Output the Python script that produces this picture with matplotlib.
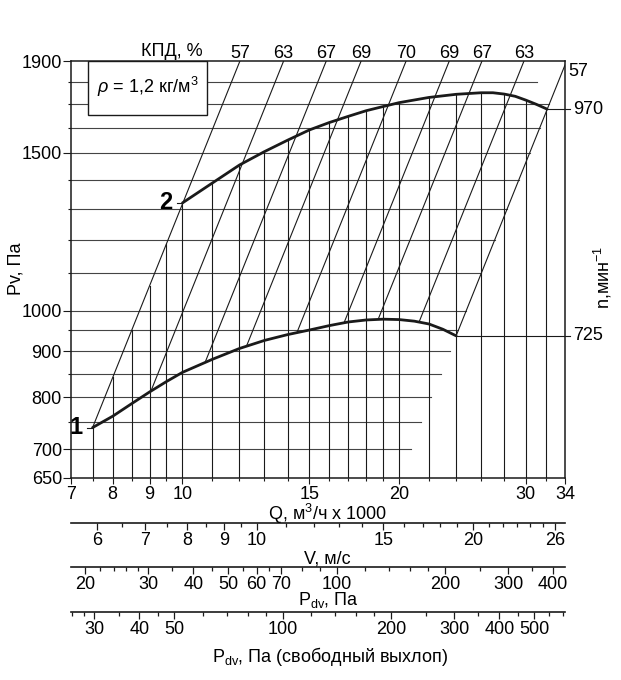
"""Fan performance chart: Pv vs Q at two speeds with efficiency lines and dynamic-pressure scales."""
import numpy as np
import matplotlib
matplotlib.use("Agg")
import matplotlib.pyplot as plt
from matplotlib.ticker import FixedLocator, FixedFormatter, NullFormatter

FONT = ["Liberation Sans", "DejaVu Sans"]
plt.rcParams.update({"font.family": FONT, "font.size": 13,
                     "mathtext.fontset": "custom",
                     "mathtext.rm": "Liberation Sans",
                     "mathtext.it": "Liberation Sans:italic"})
INK = "#1a1a1a"

# ---------- data ----------
Q_MIN, Q_MAX = 7, 34          # Q, m3/h x 1000
P_MIN, P_MAX = 650, 1900      # Pv, Pa

# curve 1: n = 725 1/min
Q1 = [7.5, 8.0, 8.5, 9.0, 9.5, 10, 11, 12, 13, 14, 15, 16, 17, 18, 19, 20, 21, 22, 23, 24]
P1 = [740, 762, 787, 811, 833, 853, 882, 907, 926, 940, 951, 962, 971, 976, 978, 977, 973, 966, 953, 937]
# curve 2: n = 970 1/min
Q2 = [10.0, 11, 12, 13, 14, 15, 16, 17, 18, 19, 20, 22, 24, 26, 27, 28, 29, 30, 31, 32.1]
P2 = [1319, 1388, 1454, 1505, 1550, 1591, 1622, 1648, 1672, 1690, 1707, 1730, 1744, 1751, 1751, 1745, 1735, 1718, 1700, 1679]
N_LABELS = ["725", "970"]

# efficiency lines (P ~ Q^2): label, flow where line meets top frame
EFF_LABELS = ["63", "67", "69", "70", "69", "67", "63"]
EFF_Q_TOP = [13.82, 15.84, 17.71, 20.45, 23.48, 26.07, 29.82]
EFF_EDGE_LABEL = "57"         # lines through the curve ends

P_GRID = [700, 750, 800, 850, 900, 950, 1000, 1100, 1200, 1300, 1400, 1500, 1600, 1700, 1800]
P_GRID_END = {1800: 31.1}     # grid line stopping short of the edge line
Q_GRID = [7.5, 8, 8.5, 9, 9.5, 10, 11, 12, 13, 14, 15, 16, 17, 18, 19, 20, 22, 24, 26, 28, 30, 32]
Q_LABELS = [7, 8, 9, 10, 15, 20, 30, 34]
P_LABELS = [650, 700, 800, 900, 1000, 1500, 1900]

# auxiliary scales
Q_PER_V = 1.268               # (m3/h x 1000) per m/s
RHO = 1.2
FREE_RATIO = 1.412            # free-outlet Pdv / Pdv
V_LABELS = [6, 7, 8, 9, 10, 15, 20, 26]
V_MINOR = [6.5, 7.5, 8.5, 9.5, 11, 12, 13, 14, 16, 17, 18, 19, 21, 22, 23, 24, 25]
PDV_LABELS = [20, 30, 40, 50, 60, 70, 100, 200, 300, 400]
PDV_MINOR = [22, 24, 26, 28, 35, 45, 55, 65, 80, 90, 120, 140, 160, 180, 250, 350]
PDVF_LABELS = [30, 40, 50, 100, 200, 300, 400, 500]
PDVF_MINOR = [26, 28, 35, 45, 60, 70, 80, 90, 120, 140, 160, 180, 250, 350, 450, 550, 600]

# ---------- figure ----------
W, H = 621, 680
fig = plt.figure(figsize=(W / 100, H / 100), dpi=100)
L, R, T, B = 71, 565, 61, 478
ax = fig.add_axes([L / W, 1 - B / H, (R - L) / W, (B - T) / H])
ax.set_xscale("log"); ax.set_yscale("log")
ax.set_xlim(Q_MIN, Q_MAX); ax.set_ylim(P_MIN, P_MAX)
for s in ax.spines.values():
    s.set_linewidth(1.1); s.set_color(INK)

lq1, lp1 = np.log(Q1), np.log(P1)
lq2, lp2 = np.log(Q2), np.log(P2)
k_left = P1[0] / Q1[0] ** 2     # parabola through both curve starts
k_right = P1[-1] / Q1[-1] ** 2  # parabola through both curve ends

# horizontal grid: left frame to the right edge line
for p in P_GRID:
    q_end = min(np.sqrt(p / k_right), P_GRID_END.get(p, Q_MAX))
    ax.plot([Q_MIN, q_end], [p, p], color="#444444", lw=0.8, zorder=1)

# vertical grid: bottom frame up to curve 2 (or the left edge line)
for q in Q_GRID:
    if q < Q2[0]:
        top = k_left * q ** 2
    else:
        top = np.exp(np.interp(np.log(q), lq2, lp2))
    ax.plot([q, q], [P_MIN, top], color=INK, lw=0.8, zorder=1)

# efficiency lines
ratio1 = (lp1 - 2 * lq1)[::-1]
def q_on_curve1(k):
    return np.exp(np.interp(np.log(k), ratio1, lq1[::-1]))

for lbl, qt in zip(EFF_LABELS, EFF_Q_TOP):
    k = P_MAX / qt ** 2
    ql = q_on_curve1(k)
    ax.plot([ql, qt], [k * ql ** 2, P_MAX], color=INK, lw=0.8, zorder=2)
    ax.annotate(lbl, xy=(qt, P_MAX), xytext=(0, 2.5), textcoords="offset points",
                ha="center", va="baseline", annotation_clip=False)

q_top_left = np.sqrt(P_MAX / k_left)
ax.plot([Q1[0], q_top_left], [P1[0], P_MAX], color=INK, lw=0.8, zorder=2)
ax.annotate(EFF_EDGE_LABEL, xy=(q_top_left, P_MAX), xytext=(0, 2.5), textcoords="offset points",
            ha="center", va="baseline", annotation_clip=False)
q_top_right = min(np.sqrt(P_MAX / k_right), Q_MAX)
ax.plot([Q1[-1], q_top_right], [P1[-1], k_right * q_top_right ** 2], color=INK, lw=0.8, zorder=2)
ax.annotate(EFF_EDGE_LABEL, xy=(Q_MAX, k_right * Q_MAX ** 2), xytext=(2.5, -4.5),
            textcoords="offset points", ha="left", va="center", annotation_clip=False)

# performance curves
for qs, ps, n in [(Q1, P1, N_LABELS[0]), (Q2, P2, N_LABELS[1])]:
    ax.plot(qs, ps, color=INK, lw=2.0, solid_capstyle="round", zorder=4)
    ax.plot([qs[-1], Q_MAX * 1.016], [ps[-1], ps[-1]], color=INK, lw=0.8, clip_on=False, zorder=2)
    ax.annotate(n, xy=(Q_MAX, ps[-1]), xytext=(5.5, 0), textcoords="offset points",
                ha="left", va="center", annotation_clip=False)

for qs, ps, tag in [(Q1, P1, "1"), (Q2, P2, "2")]:
    ax.plot([qs[0] * 0.982, qs[0]], [ps[0], ps[0]], color=INK, lw=0.8, zorder=3)
    ax.annotate(tag, xy=(qs[0], ps[0]), xytext=(-12, 0), textcoords="offset points",
                ha="center", va="center", fontsize=17, fontweight="bold")

# density box
ax.add_patch(plt.Rectangle((0.035, 0.8705), 0.2397, 0.1295, transform=ax.transAxes,
                           fc="white", ec=INK, lw=1.0, zorder=6))
ax.text(0.155, 0.937, r"$\rho$ = 1,2 кг/м$^3$", transform=ax.transAxes,
        ha="center", va="center", zorder=7)

# ticks
ax.xaxis.set_major_locator(FixedLocator(Q_LABELS))
ax.xaxis.set_major_formatter(FixedFormatter([str(v) for v in Q_LABELS]))
ax.xaxis.set_minor_locator(FixedLocator([q for q in Q_GRID if q not in Q_LABELS]))
ax.xaxis.set_minor_formatter(NullFormatter())
ax.yaxis.set_major_locator(FixedLocator(P_LABELS))
ax.yaxis.set_major_formatter(FixedFormatter([str(v) for v in P_LABELS]))
ax.yaxis.set_minor_locator(FixedLocator([p for p in P_GRID if p not in P_LABELS] + [P_MAX]))
ax.yaxis.set_minor_formatter(NullFormatter())
ax.tick_params(which="both", direction="out", width=0.8, color=INK)
ax.tick_params(axis="x", which="major", length=4, pad=1.8)
ax.tick_params(axis="x", which="minor", length=2.5)
ax.tick_params(axis="y", which="major", length=6, pad=0.5)
ax.tick_params(axis="y", which="minor", length=2.5)

fig.text(16 / W, 1 - 269 / H, "Pv, Па", rotation=90, ha="center", va="center")
fig.text(172 / W, 1 - 51 / H, "КПД, %", ha="center", va="center")
fig.text(603 / W, 1 - 277 / H, "n,мин$^{-1}$", rotation=90, ha="center", va="center")
fig.text(327 / W, 1 - 514 / H, "Q, м$^3$/ч x 1000", ha="center", va="center")


# ---------- auxiliary scales ----------
def scale_axis(y_px, lo, hi, labels, minor):
    a = fig.add_axes([L / W, 1 - y_px / H, (R - L) / W, 1e-4])
    a.set_xscale("log"); a.set_xlim(lo, hi)
    a.set_yticks([])
    for side in ("left", "right", "top"):
        a.spines[side].set_visible(False)
    a.spines["bottom"].set_linewidth(1.2); a.spines["bottom"].set_color(INK)
    a.xaxis.set_major_locator(FixedLocator(labels))
    a.xaxis.set_major_formatter(FixedFormatter([str(v) for v in labels]))
    a.xaxis.set_minor_locator(FixedLocator(minor))
    a.xaxis.set_minor_formatter(NullFormatter())
    a.tick_params(which="major", direction="out", length=5, width=0.9, pad=1.5, color=INK)
    a.tick_params(which="minor", direction="out", length=2.8, width=0.9, color=INK)
    return a


v_lo, v_hi = Q_MIN / Q_PER_V, Q_MAX / Q_PER_V
pdv_lo, pdv_hi = RHO * v_lo ** 2 / 2, RHO * v_hi ** 2 / 2
scale_axis(523, v_lo, v_hi, V_LABELS, V_MINOR)
scale_axis(567, pdv_lo, pdv_hi, PDV_LABELS, PDV_MINOR)
scale_axis(612, pdv_lo * FREE_RATIO, pdv_hi * FREE_RATIO, PDVF_LABELS, PDVF_MINOR)

fig.text(327 / W, 1 - 559 / H, "V, м/с", ha="center", va="center")
fig.text(328 / W, 1 - 600 / H, r"P$_{\rm dv}$, Па", ha="center", va="center")
fig.text(330 / W, 1 - 657 / H, r"P$_{\rm dv}$, Па (свободный выхлоп)", ha="center", va="center")

fig.savefig("out.png", dpi=100)
